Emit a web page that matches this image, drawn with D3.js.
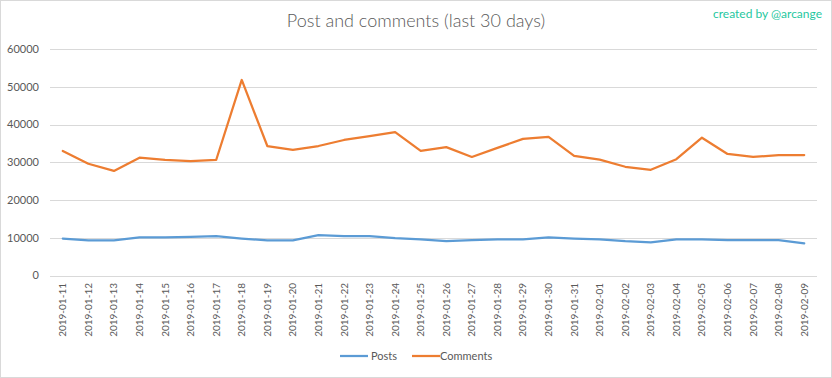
<!DOCTYPE html>
<html><head><meta charset="utf-8">
<script src="https://cdn.jsdelivr.net/npm/d3@7"></script>
<style>body{margin:0;background:#fff}svg{display:block}text{font-family:Lato,"Open Sans",sans-serif}</style>
</head><body><svg id="c" width="832" height="378"></svg>
<script>
const dates = ["2019-01-11","2019-01-12","2019-01-13","2019-01-14","2019-01-15","2019-01-16","2019-01-17","2019-01-18","2019-01-19","2019-01-20","2019-01-21","2019-01-22","2019-01-23","2019-01-24","2019-01-25","2019-01-26","2019-01-27","2019-01-28","2019-01-29","2019-01-30","2019-01-31","2019-02-01","2019-02-02","2019-02-03","2019-02-04","2019-02-05","2019-02-06","2019-02-07","2019-02-08","2019-02-09"];
const posts = [9800,9300,9300,10100,10100,10200,10400,9800,9300,9300,10700,10400,10400,9900,9600,9100,9400,9600,9600,10100,9800,9600,9100,8800,9600,9600,9400,9400,9400,8500];
const comments = [33000,29600,27700,31200,30600,30300,30600,51800,34300,33300,34300,35900,36900,38000,33000,34000,31400,33800,36200,36700,31700,30700,28800,28000,30800,36500,32200,31400,31900,31900];
const yTicks = [0,10000,20000,30000,40000,50000,60000];
const seriesNames = ["Posts","Comments"];
const colors = ["#5b9bd5","#ed7d31"];

const svg = d3.select("#c");
svg.append("rect").attr("x",0.5).attr("y",0.5).attr("width",831).attr("height",377)
  .attr("fill","#fff").attr("stroke","#d9d9d9");

const x = d3.scaleBand().domain(dates).range([50,817]);
const y = d3.scaleLinear().domain([0,60000]).range([275.5,49]);

svg.append("g").selectAll("line").data(yTicks).join("line")
  .attr("x1",50).attr("x2",817)
  .attr("y1",d=>Math.round(y(d))+0.5).attr("y2",d=>Math.round(y(d))+0.5)
  .attr("stroke","#d9d9d9").attr("stroke-width",1);

svg.append("g").selectAll("text").data(yTicks).join("text")
  .attr("x",39).attr("y",d=>y(d)).attr("dy","0.35em")
  .attr("text-anchor","end").attr("font-size",11).attr("fill","#595959")
  .text(d=>d);

svg.append("g").selectAll("text").data(dates).join("text")
  .attr("transform",d=>`translate(${x(d)+x.bandwidth()/2+3.5},283) rotate(-90)`)
  .attr("text-anchor","end").attr("font-size",10).attr("fill","#595959")
  .text(d=>d);

const line = d3.line().x((d,i)=>x(dates[i])+x.bandwidth()/2).y(d=>y(d));
[posts,comments].forEach((s,k)=>{
  svg.append("path").attr("d",line(s)).attr("fill","none")
    .attr("stroke",colors[k]).attr("stroke-width",2.25).attr("stroke-linejoin","round").attr("stroke-linecap","round");
});

svg.append("text").attr("x",416).attr("y",27).attr("text-anchor","middle")
  .attr("font-size",18).attr("fill","#595959").attr("font-weight",300).text("Post and comments (last 30 days)");
svg.append("text").attr("x",822).attr("y",18).attr("text-anchor","end")
  .attr("font-size",12).attr("fill","#1fc7a0").text("created by @arcange");

const lg = [{x:340,tx:371},{x:412,tx:440}];
seriesNames.forEach((n,k)=>{
  svg.append("line").attr("x1",lg[k].x).attr("x2",lg[k].x+28).attr("y1",356).attr("y2",356)
    .attr("stroke",colors[k]).attr("stroke-width",2.25);
  svg.append("text").attr("x",lg[k].tx).attr("y",356).attr("dy","0.35em")
    .attr("font-size",11).attr("fill","#595959").text(n);
});
</script></body></html>
